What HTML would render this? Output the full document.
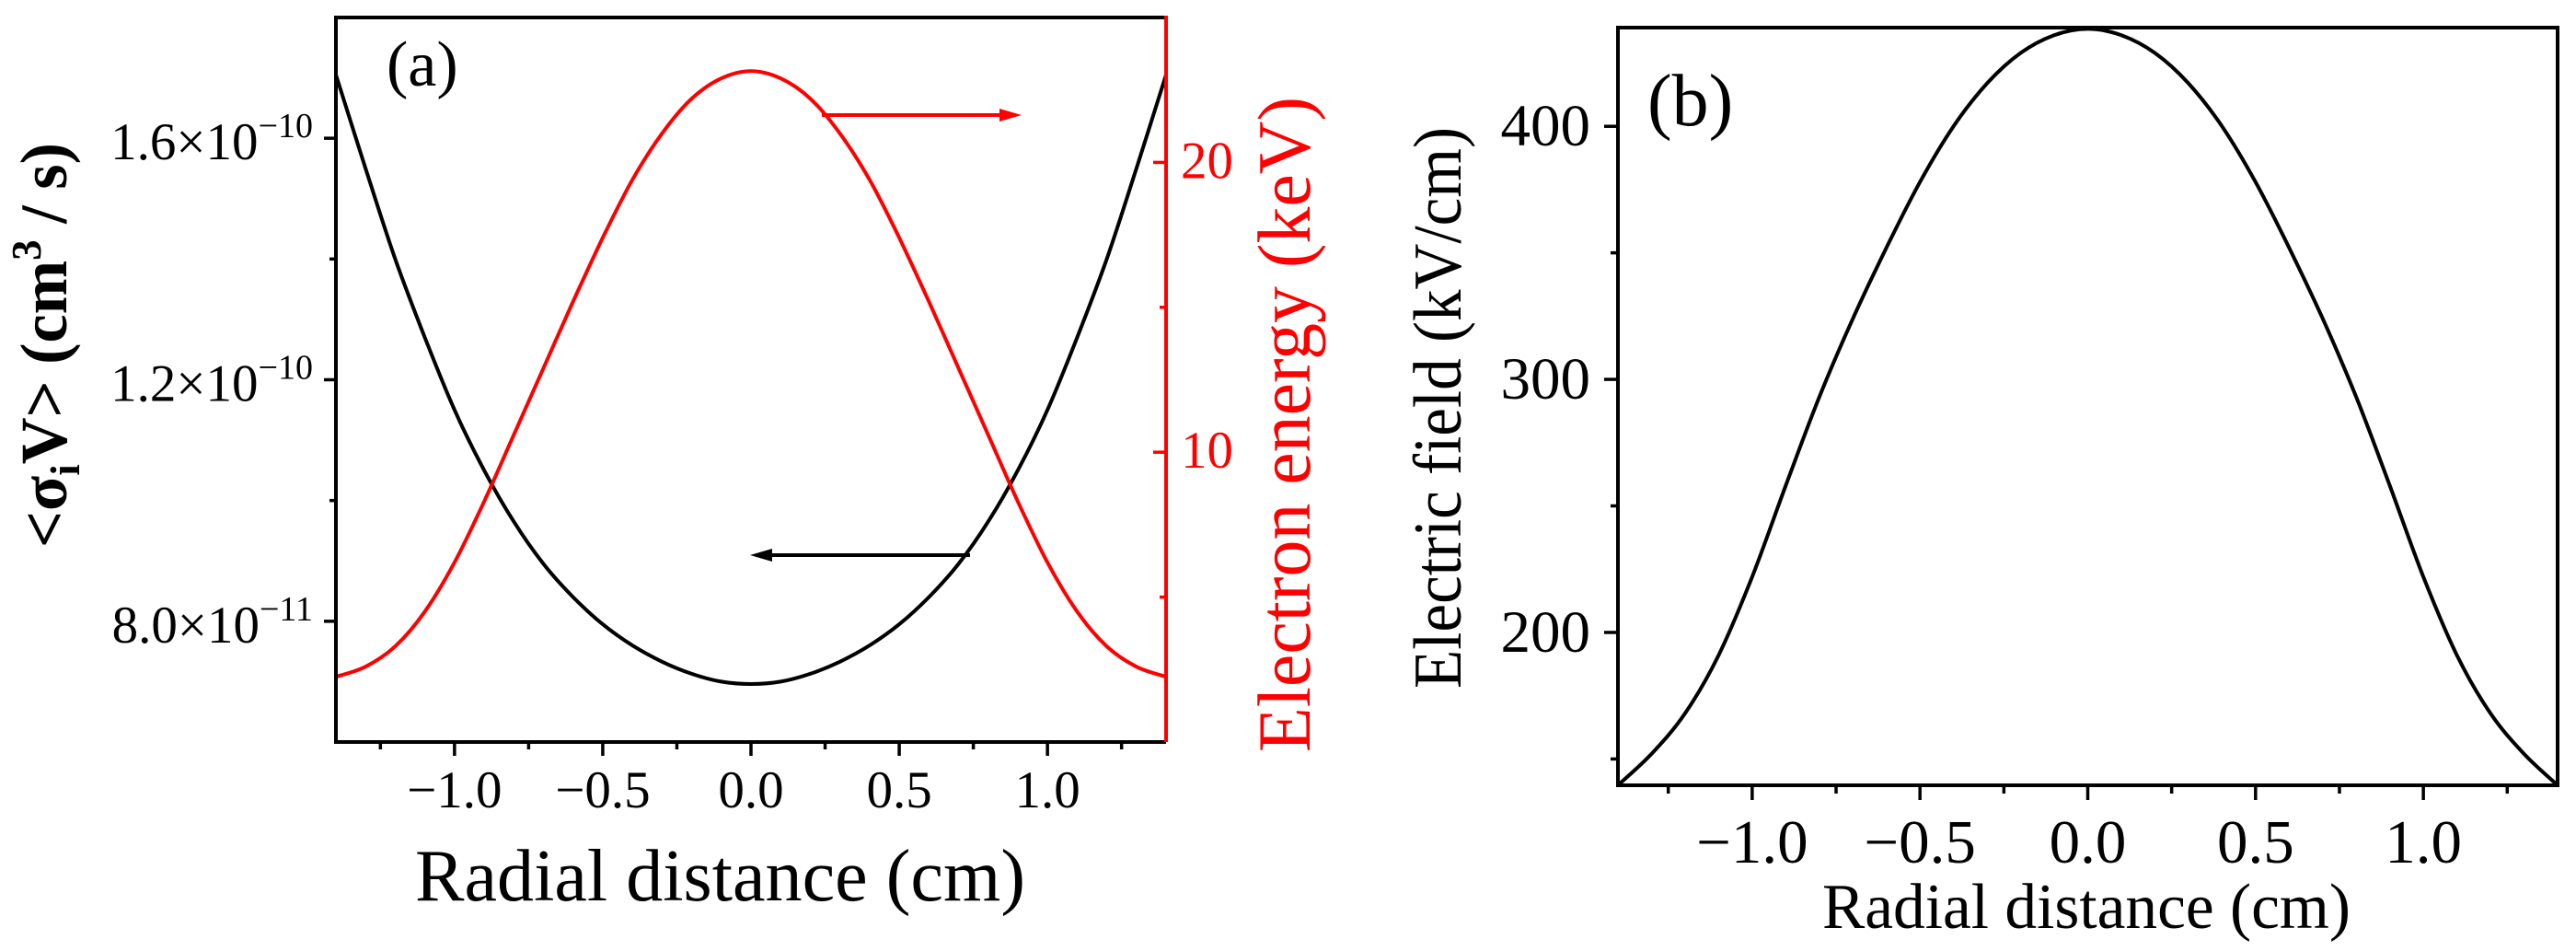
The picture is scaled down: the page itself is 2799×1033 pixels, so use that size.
<!DOCTYPE html>
<html><head><meta charset="utf-8"><style>
html,body{margin:0;padding:0;background:#fff;}
svg{display:block;font-family:"Liberation Serif",serif;}
</style></head><body>
<svg id="fig" width="2799" height="1033" viewBox="0 0 2799 1033" xmlns="http://www.w3.org/2000/svg">
<g id="pa"></g>
<g id="pb"></g>
</svg>
<script>
// ---- data ----
const xA = [-1.4,-1.3,-1.2,-1.1,-1.0,-0.9,-0.8,-0.7,-0.6,-0.5,-0.4,-0.3,-0.2,-0.1,0,0.1,0.2,0.3,0.4,0.5,0.6,0.7,0.8,0.9,1.0,1.1,1.2,1.3,1.4];
const rateA = [17.05,15.5,14.0,12.7,11.5,10.5,9.65,8.95,8.4,7.95,7.6,7.33,7.13,7.0,6.96,7.0,7.13,7.33,7.6,7.95,8.4,8.95,9.65,10.5,11.5,12.7,14.0,15.5,17.05].map(v=>v*1e-11);
const energyA = [2.25,2.6,3.3,4.5,6.2,8.3,10.6,12.9,15.2,17.4,19.4,21.0,22.2,22.9,23.15,22.9,22.2,21.0,19.4,17.4,15.2,12.9,10.6,8.3,6.2,4.5,3.3,2.6,2.25];
const fieldB = [139.6,152,168,191,222,258,293,324,352,378,400,417,429,436,438.5,436,429,417,400,378,352,324,293,258,222,191,168,152,139.6];
const xTicks = [-1.0,-0.5,0.0,0.5,1.0];
const xTickLabels = ["\u22121.0","\u22120.5","0.0","0.5","1.0"];
const xMinor = [-1.25,-0.75,-0.25,0.25,0.75,1.25];
const rateTicks = [8e-11,1.2e-10,1.6e-10];
const rateTickMant = ["8.0","1.2","1.6"];
const rateTickExp = ["\u221211","\u221210","\u221210"];
const rateMinor = [1.0e-10,1.4e-10];
const energyTicks = [10,20];
const energyMinor = [5,15];
const fieldTicks = [200,300,400];
const fieldMinor = [150,250,350];

const NS="http://www.w3.org/2000/svg";
function mk(parent,tag,attrs,text){const e=document.createElementNS(NS,tag);for(const k in attrs)e.setAttribute(k,attrs[k]);if(text!==undefined)e.textContent=text;parent.appendChild(e);return e;}
function lin(d0,d1,r0,r1){return v=>r0+(v-d0)/(d1-d0)*(r1-r0);}
function smooth(pts){let d='M'+pts[0][0].toFixed(1)+' '+pts[0][1].toFixed(1);
 for(let i=0;i<pts.length-1;i++){const p0=pts[Math.max(0,i-1)],p1=pts[i],p2=pts[i+1],p3=pts[Math.min(pts.length-1,i+2)];
  const c1=[p1[0]+(p2[0]-p0[0])/6,p1[1]+(p2[1]-p0[1])/6],c2=[p2[0]-(p3[0]-p1[0])/6,p2[1]-(p3[1]-p1[1])/6];
  d+='C'+c1.map(v=>v.toFixed(1)).join(' ')+' '+c2.map(v=>v.toFixed(1)).join(' ')+' '+p2[0].toFixed(1)+' '+p2[1].toFixed(1);}
 return d;}

// ---- panel a ----
const A=document.getElementById('pa');
const ax={l:365,r:1267,t:19,b:806};
const sxA=lin(-1.4,1.4,ax.l,ax.r), syL=lin(6e-11,1.8e-10,ax.b,ax.t), syR=lin(0,25,ax.b,ax.t);
let el=mk(A,'path',{d:smooth(xA.map((x,i)=>[sxA(x),syL(rateA[i])])),fill:'none',stroke:'#000','stroke-width':4});


el=mk(A,'path',{d:smooth(xA.map((x,i)=>[sxA(x),syR(energyA[i])])),fill:'none',stroke:'#ff0000','stroke-width':4});


el=mk(A,'path',{d:`M${ax.l} ${ax.t}H${ax.r}`,stroke:'#000','stroke-width':4});


el=mk(A,'path',{d:`M${ax.l} ${ax.t-2}V${ax.b}H${ax.r}`,fill:'none',stroke:'#000','stroke-width':4});


el=mk(A,'path',{d:`M${ax.r} ${ax.t-2}V${ax.b}`,stroke:'#ff0000','stroke-width':4});


xTicks.forEach((v,i)=>{const x=sxA(v);mk(A,'path',{d:`M${x} ${ax.b}v15`,stroke:'#000','stroke-width':3.5});
 el=mk(A,'text',{x:x,y:877,'font-size':57,'text-anchor':'middle'},xTickLabels[i]);
 
 });
xMinor.forEach(v=>{mk(A,'path',{d:`M${sxA(v)} ${ax.b}v8`,stroke:'#000','stroke-width':3.5});});
rateTicks.forEach((v,i)=>{const y=syL(v);mk(A,'path',{d:`M${ax.l} ${y}h-13`,stroke:'#000','stroke-width':3.5});
 el=mk(A,'text',{x:340,y:y+23,'font-size':57,'text-anchor':'end'});
 
 
 mk(el,'tspan',{},rateTickMant[i]+"\u00d710");mk(el,'tspan',{'font-size':38,dy:-24},rateTickExp[i]);});
rateMinor.forEach(v=>{mk(A,'path',{d:`M${ax.l} ${syL(v)}h-7`,stroke:'#000','stroke-width':3.5});});
energyTicks.forEach(v=>{const y=syR(v);mk(A,'path',{d:`M${ax.r} ${y}h-14`,stroke:'#ff0000','stroke-width':3.5});
 el=mk(A,'text',{x:1283,y:y+17,'font-size':57,fill:'#ff0000'},String(v));
 
 });
energyMinor.forEach(v=>{mk(A,'path',{d:`M${ax.r} ${syR(v)}h-7`,stroke:'#ff0000','stroke-width':3.5});});
el=mk(A,'text',{x:451,y:978,'font-size':80,textLength:663,lengthAdjust:'spacingAndGlyphs'},'Radial distance (cm)');


el=mk(A,'text',{x:0,y:0,'font-size':72,'font-weight':'bold','text-anchor':'middle',transform:'translate(72,375) rotate(-90)',textLength:440,lengthAdjust:'spacingAndGlyphs'});


mk(el,'tspan',{},'<\u03c3');mk(el,'tspan',{'font-size':46,dy:14},'i');mk(el,'tspan',{dy:-14},'V> (cm');mk(el,'tspan',{'font-size':46,dy:-28},'3');mk(el,'tspan',{dy:28},' / s)');
el=mk(A,'text',{x:0,y:0,'font-size':82,fill:'#ff0000','text-anchor':'middle',transform:'translate(1423,461) rotate(-90)',textLength:712,lengthAdjust:'spacingAndGlyphs'},'Electron energy (keV)');


el=mk(A,'text',{x:420,y:93,'font-size':70},'(a)');


el=mk(A,'path',{d:'M893 125H1090',stroke:'#ff0000','stroke-width':4});


mk(A,'path',{d:'M1110 125L1086 118V132Z',fill:'#ff0000'});
el=mk(A,'path',{d:'M1054 603H835',stroke:'#000','stroke-width':4});


mk(A,'path',{d:'M815 603L839 596V610Z',fill:'#000'});

// ---- panel b ----
const B=document.getElementById('pb');
const bx={l:1758,r:2779,t:30,b:853};
const sxB=lin(-1.4,1.4,bx.l,bx.r), syB=lin(139.6,439,bx.b,bx.t);
el=mk(B,'path',{d:smooth(xA.map((x,i)=>[sxB(x),syB(fieldB[i])])),fill:'none',stroke:'#000','stroke-width':4});


el=mk(B,'rect',{x:bx.l,y:bx.t,width:bx.r-bx.l,height:bx.b-bx.t,fill:'none',stroke:'#000','stroke-width':4});


xTicks.forEach((v,i)=>{const x=sxB(v);mk(B,'path',{d:`M${x} ${bx.b}v16`,stroke:'#000','stroke-width':3.5});
 el=mk(B,'text',{x:x,y:937,'font-size':67,'text-anchor':'middle'},xTickLabels[i]);
 
 });
xMinor.forEach(v=>{mk(B,'path',{d:`M${sxB(v)} ${bx.b}v9`,stroke:'#000','stroke-width':3.5});});
fieldTicks.forEach(v=>{const y=syB(v);mk(B,'path',{d:`M${bx.l} ${y}h-15`,stroke:'#000','stroke-width':3.5});
 el=mk(B,'text',{x:1728,y:y+21,'font-size':65,'text-anchor':'end'},String(v));
 
 });
fieldMinor.forEach(v=>{mk(B,'path',{d:`M${bx.l} ${syB(v)}h-8`,stroke:'#000','stroke-width':3.5});});
el=mk(B,'text',{x:1980,y:1008,'font-size':70,textLength:574,lengthAdjust:'spacingAndGlyphs'},'Radial distance (cm)');


el=mk(B,'text',{x:0,y:0,'font-size':74,'text-anchor':'middle',transform:'translate(1587,443) rotate(-90)',textLength:610,lengthAdjust:'spacingAndGlyphs'},'Electric field (kV/cm)');


el=mk(B,'text',{x:1790,y:136,'font-size':80},'(b)');


</script>
</body></html>
